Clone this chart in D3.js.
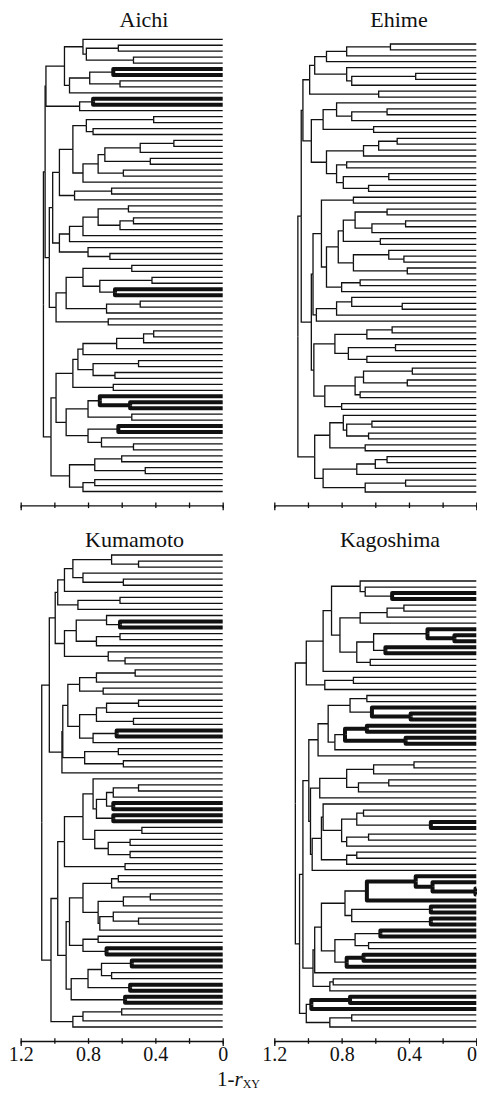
<!DOCTYPE html>
<html>
<head>
<meta charset="utf-8">
<script src="https://cdn.jsdelivr.net/npm/d3@7"></script>
<style>
  body { margin: 0; background: #fff; }
  text { font-family: "Liberation Serif", "DejaVu Serif", serif; fill: #111; }
</style>
</head>
<body>
<script>
// dendrograms written as (child,child)height, leaves are x, * = bold subtree
// --- Aichi
var aichiA = "(((x,((x,x)0.62,(x,x)0.53)0.81)0.83,(((x,x)0.65*,(x,x)0.61)0.79,x)0.91)0.94,((x,x)0.77*,x)0.85)1.05";
var aichiB = "((((x,x)0.41,(x,x)0.77)0.81,(((((x,x)0.29,x)0.49,(x,x)0.43)0.70,(x,x)0.59)0.74,x)0.83)0.89,((x,x)0.66,x)0.88)0.97";
var aichiC = "(((((x,x)0.56,((x,x)0.53,x)0.61)0.74,x)0.83,x)0.91,(x,(x,x)0.67)0.80)0.97";
var aichiD = "((((x,x)0.54,((x,x)0.42,(x,x)0.64*)0.73)0.83,((x,x)0.49,x)0.69)0.93,(x,x)0.68)0.99";
var aichiE1 = "((((((x,x)0.41,x)0.47,x)0.63,x)0.83,((x,x)0.50,(x,x)0.64)0.77)0.86,(x,x)0.65)0.89";
var aichiE2 = "(((x,(x,x)0.55)0.73*,(x,x)0.54)0.80,((x,x)0.62*,(x,(x,x)0.53)0.72)0.80)0.93";
var aichiE3 = "(((x,x)0.60,(x,x)0.46)0.76,((x,x)0.76,x)0.83)0.91";
var aichi = "((" + aichiA + ",((" + aichiB + "," + aichiC + ")1.01," + aichiD + ")1.03)1.055,((" +
            aichiE1 + "," + aichiE2 + ")0.99," + aichiE3 + ")1.02)1.065";

// --- Ehime
var ehimeT = "(((((x,x)0.51,x)0.77,x)0.89,(x,((x,x)0.36,x)0.74)0.77)0.96,(x,x)0.58)0.99";
var ehimeU = "(((x,((x,x)0.53,x)0.74)0.83,(x,x)0.61)0.91,((((x,x)0.47,x)0.58,x)0.67,((x,x)0.77,((x,x)0.52,(x,x)0.64)0.79)0.83)0.89)0.98";
var ehimeM1 = "((x,x)0.73,(((((x,x)0.53,((x,x)0.42,x)0.62)0.72,(x,x)0.57)0.79,((x,(x,x)0.43)0.52,(x,x)0.41)0.73)0.82,((x,x)0.69,x)0.80)0.89)0.92";
var ehimeM2 = "(((x,(x,x)0.44)0.74,x)0.83,x)0.95";
var ehimeM3 = "((((x,x)0.50,x)0.65,((x,x)0.48,(x,x)0.65)0.76)0.84,((((x,x)0.38,(x,x)0.41)0.67,(x,x)0.69)0.72,(x,x)0.80)0.90)0.965";
var ehimeB = "(((x,((x,x)0.62,(x,x)0.64)0.77)0.79,(x,x)0.66)0.87,((((x,x)0.53,x)0.60,x)0.71,((x,x)0.42,x)0.66)0.91)0.96";
var ehime = "(((" + ehimeT + "," + ehimeU + ")1.03,((" + ehimeM1 + "," + ehimeM2 + ")0.97," + ehimeM3 + ")0.98)1.04," + ehimeB + ")1.06";

// --- Kumamoto
var kumaT1 = "((((x,(x,x)0.50)0.66,(x,(x,x)0.59)0.83)0.89,x)0.94,((x,x)0.61,x)0.86)0.98";
var kumaT2 = "(((x,(x,x)0.61*)0.69,((x,x)0.61,x)0.75)0.87,(x,(x,x)0.58)0.68)0.94";
var kumaM = "((((((x,x)0.52,x)0.75,(x,x)0.71)0.85,((((x,x)0.50,x)0.69,(x,x)0.53)0.75,((x,x)0.63*,x)0.77)0.85)0.92,((x,x)0.62,(x,x)0.59)0.82)0.95,x)0.955";
var kumaL1 = "(((x,((((x,x)0.50,x)0.65,(x,x)0.65*)0.69,(x,x)0.65*)0.75)0.77,((x,x)0.48,((x,x)0.55,(x,x)0.55)0.68)0.76)0.83,(x,x)0.58)0.94";
var kumaL2 = "(((((x,x)0.62,x)0.66,(((x,x)0.43,x)0.59,((x,(x,x)0.50)0.65,x)0.73)0.74)0.83,((x,x)0.74,(x,x)0.69*)0.83)0.91,((((x,x)0.54*,(x,x)0.66)0.72,(x,x)0.55*)0.80,(x,x)0.58*)0.90)0.93";
var kumaL3 = "(((x,x)0.60,x)0.83,x)0.89";
var kumamoto = "(((" + kumaT1 + "," + kumaT2 + ")0.995," + kumaM + ")1.03,((" + kumaL1 + "," + kumaL2 + ")0.98," + kumaL3 + ")1.02)1.075";

// --- Kagoshima
var kagoT = "((((x,(x,(x,x)0.50*)0.66)0.69,((((x,x)0.43,x)0.53,x)0.69,(((x,(x,x)0.13*)0.29*,(x,x)0.54*)0.61,(x,x)0.63)0.71)0.81)0.86,x)0.91,((x,x)0.73,x)0.90)1.01";
var kagoM1 = "((((x,x)0.65,(x,(x,x)0.39)0.62*)0.75,(((x,x)0.65,(x,x)0.42)0.78*,x)0.84)0.88,x)0.94";
var kagoM2 = "((((x,x)0.37,x)0.61,((x,x)0.52,x)0.70)0.77,x)0.93";
var kagoM3 = "(((x,(((x,x)0.67,(x,x)0.27*)0.71,((x,x)0.64,x)0.77)0.80)0.91,((x,x)0.71,x)0.77)0.92,x)0.975";
var kagoL = "((((((x,(x,(x,x)0.005)0.26)0.36,x)0.65*,((x,x)0.27*,(x,x)0.27*)0.74)0.78,(((x,x)0.57*,(x,x)0.64)0.72,((x,x)0.67,x)0.77*)0.84)0.92,x)0.96,((x,x)0.85,x)0.87)0.97";
var kagoB = "(((x,x)0.75,x)0.98*,((x,x)0.74,x)0.87)1.01";
var kagoshima = "(" + kagoT + ",(((" + kagoM1 + ",(" + kagoM2 + "," + kagoM3 + ")0.985)0.995," + kagoL + ")1.03," + kagoB + ")1.05)1.075";

var titles = ["Aichi", "Ehime", "Kumamoto", "Kagoshima"];
var trees = [aichi, ehime, kumamoto, kagoshima];
var tickValues = [1.2, 1.0, 0.8, 0.6, 0.4, 0.2, 0];
var tickLabels = ["1.2", "", "0.8", "", "0.4", "", "0"];

function parseTree(s){
  s = s.replace(/\s+/g, "");
  var i = 0;
  function node(){
    if(s[i] == "("){
      i++;
      var kids = [node()];
      while(s[i] == ","){ i++; kids.push(node()); }
      i++; // )
      var num = "";
      while(i < s.length && /[0-9.]/.test(s[i])) num += s[i++];
      var bold = false;
      if(s[i] == "*"){ bold = true; i++; }
      return {h: +num, bold: bold, children: kids};
    }
    i++; // x
    return {h: 0};
  }
  var t = node();
  if(i != s.length) console.log("parse problem at " + i);
  return t;
}

var svg = d3.select("body").append("svg")
    .attr("width", 477)
    .attr("height", 1094);

var panels = [
  {x0: 20.7, x1: 222.7, y0: 39.3, y1: 491.5, axisY: 505.3, tx: 144, ty: 27, labels: false},
  {x0: 274.3, x1: 476.3, y0: 44, y1: 492, axisY: 505.3, tx: 399, ty: 27, labels: false},
  {x0: 20.7, x1: 222.7, y0: 555, y1: 1027, axisY: 1041, tx: 134.5, ty: 547, labels: true},
  {x0: 274.3, x1: 476.3, y0: 581, y1: 1027, axisY: 1041, tx: 390, ty: 547, labels: true}
];

panels.forEach(function(p, k){
  var x = d3.scaleLinear().domain([1.2, 0]).range([p.x0, p.x1]);
  var root = d3.hierarchy(parseTree(trees[k]));
  var leaves = root.leaves();
  var y = d3.scalePoint().domain(d3.range(leaves.length)).range([p.y0, p.y1]);
  leaves.forEach(function(d, i){ d.py = y(i); });
  root.eachAfter(function(d){
    if(d.children) d.py = (d.children[0].py + d.children[d.children.length - 1].py) / 2;
  });
  root.eachBefore(function(d){
    d.inBold = !!d.data.bold || (d.parent ? d.parent.inBold : false);
  });

  var g = svg.append("g");
  var links = root.links();
  links.sort(function(a, b){ return (a.source.inBold ? 1 : 0) - (b.source.inBold ? 1 : 0); });

  g.selectAll("path.link")
    .data(links)
    .enter().append("path")
    .attr("class", "link")
    .attr("d", function(l){
      return "M" + x(l.source.data.h) + "," + l.source.py +
             "V" + l.target.py + "H" + x(l.target.data.h);
    })
    .attr("fill", "none")
    .attr("stroke", "#111")
    .attr("stroke-width", function(l){ return l.source.inBold ? 4 : 1.3; })
    .attr("stroke-linejoin", function(l){ return l.source.inBold ? "round" : "miter"; });

  svg.append("text")
    .attr("x", p.tx)
    .attr("y", p.ty)
    .attr("text-anchor", "middle")
    .style("font-size", "22px")
    .text(titles[k]);

  var axis = d3.axisBottom(x)
    .tickValues(tickValues)
    .tickSizeOuter(0)
    .tickSize(5)
    .tickFormat(function(d, i){ return p.labels ? tickLabels[i] : ""; });

  var ag = svg.append("g")
    .attr("transform", "translate(0," + p.axisY + ")")
    .attr("font-family", null)
    .call(axis);
  ag.select(".domain").attr("stroke", "#111").attr("stroke-width", 1.3);
  ag.selectAll(".tick line").attr("y1", -2.8).attr("y2", 2.8).attr("stroke", "#111").attr("stroke-width", 1.3);
  ag.selectAll(".tick text")
    .attr("y", 6)
    .attr("dy", "0.71em")
    .style("font-family", "'Liberation Serif', 'DejaVu Serif', serif")
    .style("font-size", "20px")
    .attr("fill", "#111");
  // the last "0" sits on the page edge: keep it inside
  if(p.x1 > 470){
    ag.selectAll(".tick text").filter(function(d){ return d === 0; })
      .attr("text-anchor", "end").attr("x", 476.5 - p.x1);
  }
});

var xl = svg.append("text")
  .attr("x", 217)
  .attr("y", 1086)
  .style("font-size", "21px");
xl.append("tspan").text("1-");
xl.append("tspan").style("font-style", "italic").text("r");
xl.append("tspan").style("font-size", "12px").attr("dy", 2).text("XY");
</script>
</body>
</html>
